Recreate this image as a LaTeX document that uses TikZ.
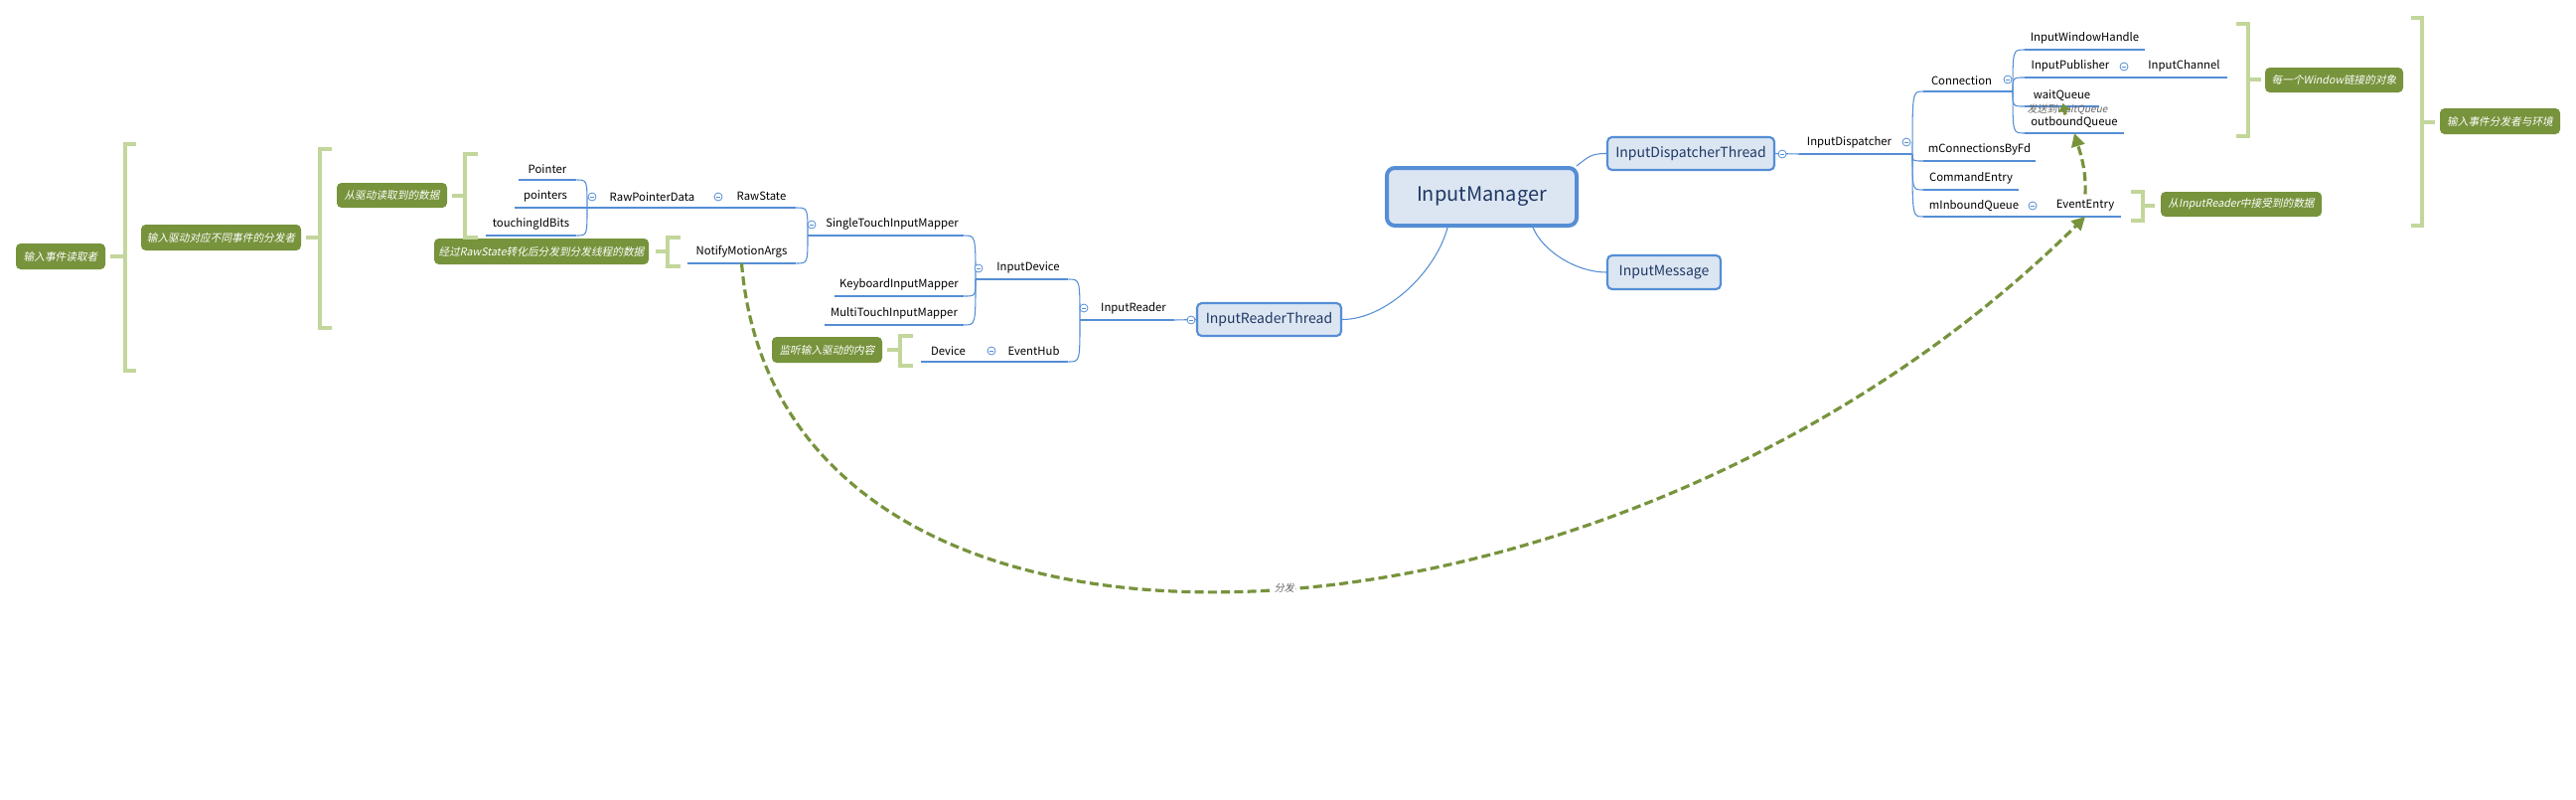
\documentclass[tikz,border=0pt]{standalone}
\usepackage{fontspec}
\setmainfont{Noto Sans CJK SC}
\newfontfamily\mmslant{Noto Sans CJK SC}[FakeSlant=0.2]
\usetikzlibrary{arrows.meta,calc}
\definecolor{mmblue}{RGB}{85,142,213}
\definecolor{mmfill}{RGB}{220,230,242}
\definecolor{mmtext}{RGB}{31,56,100}
\definecolor{mmgreen}{RGB}{119,147,60}
\definecolor{mmbrk}{RGB}{195,214,155}
\definecolor{mmgray}{RGB}{100,100,100}
\tikzset{
  topic/.style={inner sep=0pt, minimum height=16.5pt, font=\fontsize{8.5}{10}\selectfont, anchor=south, text=black},
  uline/.style={mmblue, line width=2pt},
  branch/.style={mmblue, line width=0.8pt},
  mainbox/.style={draw=mmblue, line width=1.6pt, fill=mmfill, rounded corners=3.5pt, text=mmtext, font=\fontsize{10.5}{12}\selectfont, inner sep=0pt},
  rootbox/.style={draw=mmblue, line width=3pt, fill=mmfill, rounded corners=6pt, text=mmtext, font=\fontsize{15}{18}\selectfont, inner sep=0pt},
  callout/.style={fill=mmgreen, rounded corners=3.5pt, text=white, font=\fontsize{8}{9}\mmslant, inner sep=0pt},
  brk/.style={mmbrk, line width=3.4pt},
  rel/.style={mmgreen, line width=2.4pt, dash pattern=on 6.75pt off 3.2pt, -{Triangle[length=10pt,width=10pt]}},
  rellabel/.style={text=mmgray, font=\fontsize{7.5}{9}\mmslant, inner sep=1pt},
  collapse/.style={circle, draw=mmblue, line width=0.6pt, fill=white, minimum size=6pt, inner sep=0pt,
    path picture={\draw[mmblue, line width=0.6pt] ([xshift=-1.7pt]path picture bounding box.center) -- ([xshift=1.7pt]path picture bounding box.center);}},
}
\newcommand\mmtopic[5]{%
  \node[topic, minimum width={(#3-#2)*0.75pt}] (#1) at ({(#2+#3)/2},#4) {#5};
  \draw[uline] (#1.south west) -- (#1.south east);}
\newcommand\lbr[2]{\draw[branch] (#1) .. controls (#2 |- #1) .. (#2);}
\newcommand\rbr[2]{\draw[branch] (#1) .. controls (#1 |- #2) .. (#2);}
\newcommand\mmbrk[6]{\draw[brk] (#4,#2) -- (#1,#2) -- (#1,#3) -- (#4,#3); \draw[brk] (#5,#6) -- (#1,#6);}
\begin{document}
\begin{tikzpicture}[x=0.75pt,y=-0.75pt]
\fill[white] (0,0) rectangle (2593,804);
\useasboundingbox (0,0) rectangle (2593,804);

% main boxes
\node[rootbox, minimum width=143.25pt, minimum height=43.5pt] (root) at (1491.5,198) {InputManager};
\node[mainbox, minimum width=108.75pt, minimum height=24.75pt] (irt) at (1277.5,321.5) {InputReaderThread};
\node[mainbox, minimum width=126pt, minimum height=24.75pt] (idt) at (1702,154.5) {InputDispatcherThread};
\node[mainbox, minimum width=85.5pt, minimum height=25.5pt] (imsg) at (1675,274) {InputMessage};

\draw[branch] (root.222) .. controls ($(root.222)+(-12,45)$) and ($(irt.east)+(44,0)$) .. (irt.east);
\draw[branch] (root.18) .. controls ($(root.18)+(12,-9)$) and ($(idt.west)+(-16,0)$) .. (idt.west);
\draw[branch] (root.-31) .. controls ($(root.-31)+(10,24)$) and ($(imsg.west)+(-30,0)$) .. (imsg.west);

% left topics
\mmtopic{Pointer}{522}{580}{181}{Pointer}
\mmtopic{pointers}{518}{580}{209}{pointers}
\mmtopic{touchingIdBits}{489}{580}{237}{touchingIdBits}
\mmtopic{RawPointerData}{605}{708}{209}{RawPointerData}
\mmtopic{RawState}{732}{801}{209}{RawState}
\mmtopic{NotifyMotionArgs}{692}{801}{265}{NotifyMotionArgs}
\mmtopic{STIM}{826}{970}{237}{SingleTouchInputMapper}
\mmtopic{KIM}{840}{970}{298}{KeyboardInputMapper}
\mmtopic{MTIM}{830}{970}{327}{MultiTouchInputMapper}
\mmtopic{InputDevice}{995}{1075}{281}{InputDevice}
\mmtopic{Device}{927}{982}{364}{Device}
\mmtopic{EventHub}{1006}{1075}{364}{EventHub}
\mmtopic{InputReader}{1100}{1182}{322}{InputReader}

% right topics
\mmtopic{InputDispatcher}{1811}{1912}{155}{InputDispatcher}
\mmtopic{Connection}{1936}{2013}{92}{Connection}
\mmtopic{mConn}{1936}{2049}{162}{mConnectionsByFd}
\mmtopic{CmdEntry}{1936}{2032}{191}{CommandEntry}
\mmtopic{mInQ}{1936}{2038}{218}{mInboundQueue}
\mmtopic{EventEntry}{2063}{2135}{218}{EventEntry}
\mmtopic{IWH}{2038}{2159}{50}{InputWindowHandle}
\mmtopic{IPub}{2038}{2130}{78}{InputPublisher}
\mmtopic{IChan}{2155}{2242}{78}{InputChannel}
\mmtopic{waitQ}{2038}{2113}{107}{waitQueue}
\mmtopic{outQ}{2038}{2138}{134}{outboundQueue}

% forks
\coordinate (fRPD) at (591,209);
\coordinate (fSTIM) at (813,237);
\coordinate (fID) at (982,281);
\coordinate (fIR) at (1087,322);
\coordinate (fDisp) at (1925,155);
\coordinate (fConn) at (2026,92);

% left branches
\lbr{Pointer.south east}{fRPD}
\lbr{pointers.south east}{fRPD}
\lbr{touchingIdBits.south east}{fRPD}
\draw[branch] (fRPD) -- (RawPointerData.south west);
\draw[branch] (RawPointerData.south east) -- (RawState.south west);
\lbr{RawState.south east}{fSTIM}
\lbr{NotifyMotionArgs.south east}{fSTIM}
\draw[branch] (fSTIM) -- (STIM.south west);
\lbr{STIM.south east}{fID}
\lbr{KIM.south east}{fID}
\lbr{MTIM.south east}{fID}
\draw[branch] (fID) -- (InputDevice.south west);
\draw[branch] (Device.south east) -- (EventHub.south west);
\lbr{InputDevice.south east}{fIR}
\lbr{EventHub.south east}{fIR}
\draw[branch] (fIR) -- (InputReader.south west);
\draw[branch] (InputReader.south east) -- (irt.west);

% right branches
\draw[branch] (idt.east) -- (InputDispatcher.south west);
\draw[branch] (InputDispatcher.south east) -- (fDisp);
\rbr{fDisp}{Connection.south west}
\rbr{fDisp}{mConn.south west}
\rbr{fDisp}{CmdEntry.south west}
\rbr{fDisp}{mInQ.south west}
\draw[branch] (Connection.south east) -- (fConn);
\rbr{fConn}{IWH.south west}
\rbr{fConn}{IPub.south west}
\rbr{fConn}{waitQ.south west}
\rbr{fConn}{outQ.south west}
\draw[branch] (IPub.south east) -- (IChan.south west);
\draw[branch] (mInQ.south east) -- (EventEntry.south west);

% collapse markers
\node[collapse] (c1) at (596,198) {};
\node[collapse] (c2) at (723,198) {};
\node[collapse] (c3) at (817,226) {};
\node[collapse] (c4) at (985,270) {};
\node[collapse] (c5) at (1091,310) {};
\node[collapse] (c6) at (998,353) {};
\node[collapse] (c7) at (1199,322) {};
\node[collapse] (c8) at (1794,155) {};
\node[collapse] (c9) at (1919,143) {};
\node[collapse] (c10) at (2021,80) {};
\node[collapse] (c11) at (2138,67) {};
\node[collapse] (c12) at (2046,207) {};

% callouts
\node[callout, minimum width=67.5pt, minimum height=19.5pt] (n1) at (61,258) {输入事件读取者};
\node[callout, minimum width=120.75pt, minimum height=19.5pt] (n2) at (222.5,239) {输入驱动对应不同事件的分发者};
\node[callout, minimum width=83.25pt, minimum height=18.75pt] (n3) at (394.5,196.5) {从驱动读取到的数据};
\node[callout, minimum width=162pt, minimum height=19.5pt] (n4) at (545,253) {经过RawState转化后分发到分发线程的数据};
\node[callout, minimum width=83.25pt, minimum height=19.5pt] (n5) at (832.5,352) {监听输入驱动的内容};
\node[callout, minimum width=121.5pt, minimum height=18.75pt] (n6) at (2256,205.5) {从InputReader中接受到的数据};
\node[callout, minimum width=104.25pt, minimum height=18.75pt] (n7) at (2349.5,80.5) {每一个Window链接的对象};
\node[callout, minimum width=90.75pt, minimum height=19.5pt] (n8) at (2516.5,122) {输入事件分发者与环境};

% brackets
\mmbrk{126}{145}{373}{137}{111}{258}
\mmbrk{322}{150}{330}{334}{308}{239}
\mmbrk{468}{155}{239}{481}{455}{197}
\mmbrk{672}{239}{268}{685}{660}{253}
\mmbrk{906}{338}{368}{919}{893}{352}
\mmbrk{2157}{193}{222}{2145}{2169}{207}
\mmbrk{2263}{24}{137}{2251}{2276}{80}
\mmbrk{2438}{18}{227}{2427}{2451}{123}

% relationships
\node[rellabel] (lbl2) at (2081,110) {发送到waitQueue};
\draw[rel] (NotifyMotionArgs.south) .. controls (786,736) and (1625,687) .. (EventEntry.south)
  node[rellabel, pos=0.52, fill=white] (lbl1) {分发};
\draw[rel] (EventEntry.north) .. controls ($(EventEntry.north)+(1,-25)$) and ($(outQ.south)+(6,20)$) .. (outQ.south);
\draw[rel, -{Triangle[length=6pt,width=9pt]}] ($(outQ.north)+(-9,4)$) -- ($(waitQ.south)+(1,-3)$);
\end{tikzpicture}
\end{document}
